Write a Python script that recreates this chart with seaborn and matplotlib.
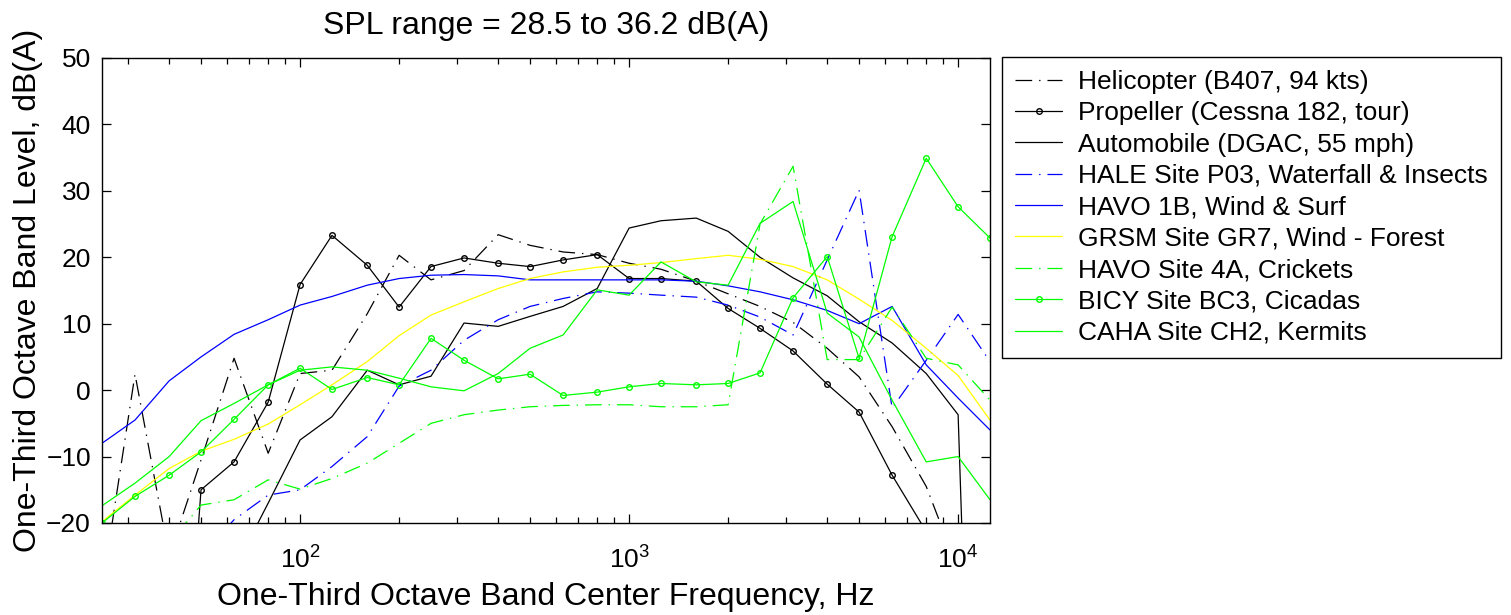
import matplotlib
matplotlib.use("Agg")
import seaborn as sns
import matplotlib.pyplot as plt
import pandas as pd

sns.set_style("ticks")
plt.rcParams["font.family"] = ["Liberation Sans", "DejaVu Sans"]
plt.rcParams["lines.scale_dashes"] = False
plt.rcParams["text.color"] = "black"
plt.rcParams["axes.labelcolor"] = "black"

# -----------------------------------------------------------
# One-third octave band data (dB(A))
# -----------------------------------------------------------
freqs = [25, 31.5, 40, 50, 63, 80, 100, 125, 160, 200, 250, 315, 400, 500, 630,
         800, 1000, 1250, 1600, 2000, 2500, 3150, 4000, 5000, 6300, 8000, 10000, 12500]

helicopter = [-30, 2.4, -25, -10.5, 4.8, -9.5, 2.5, 3.0, 11.5, 20.3, 16.6, 18.0, 23.4, 21.8,
              20.8, 20.4, 19.1, 18.2, 16.4, 14.5, 12.6, 10.2, 6.3, 2.0, -5.5, -14.5, -27, -40]
propeller = [-90, -90, -80, -15.0, -10.8, -1.8, 15.9, 23.3, 18.8, 12.5, 18.6, 19.9, 19.1, 18.6,
             19.6, 20.4, 16.8, 16.8, 16.4, 12.3, 9.3, 5.9, 0.9, -3.3, -12.8, -21.3, -30, -40]
automobile = [-90, -90, -80, -45, -27, -17.0, -7.5, -4.0, 3.0, 0.8, 2.1, 10.1, 9.6, 11.1,
              12.6, 15.3, 24.4, 25.5, 25.9, 23.9, 20.0, 16.9, 14.2, 10.3, 7.1, 2.5, -3.7, -150]
hale = [-90, -60, -40, -25, -19.5, -15.8, -15.0, -11.5, -7.0, 0.6, 3.0, 7.5, 10.6, 12.6,
        13.8, 14.8, 14.6, 14.3, 14.0, 12.8, 11.0, 8.3, 19.6, 30.1, -2.7, 4.5, 11.4, 4.3]
havo1b = [-8.0, -4.5, 1.4, 5.0, 8.4, 10.6, 12.8, 14.1, 15.8, 16.8, 17.3, 17.4, 17.2, 16.6,
          16.6, 16.6, 16.6, 16.6, 16.4, 15.7, 14.8, 13.6, 12.0, 10.0, 12.6, 3.8, -1.2, -6.0]
grsm = [-19.8, -15.8, -11.8, -9.2, -7.4, -5.1, -2.2, 0.8, 4.3, 8.2, 11.3, 13.3, 15.3, 16.8,
        17.8, 18.5, 18.8, 19.2, 19.8, 20.3, 19.7, 18.6, 16.6, 13.7, 10.5, 6.3, 2.2, -4.5]
havo4a = [-40, -32, -23, -17.3, -16.5, -13.5, -14.9, -13.3, -11.0, -8.0, -5.0, -3.7, -3.0, -2.5,
          -2.3, -2.2, -2.2, -2.5, -2.5, -2.2, 25.0, 33.7, 4.6, 4.6, 12.5, 4.8, 3.8, -1.5]
bicy = [-20.0, -16.0, -12.8, -9.3, -4.4, 0.8, 3.3, 0.1, 1.9, 0.8, 7.8, 4.5, 1.7, 2.4,
        -0.8, -0.3, 0.5, 1.0, 0.8, 1.0, 2.6, 13.9, 20.1, 4.8, 23.1, 34.9, 27.6, 22.9]
caha = [-17.4, -14.0, -10.0, -4.6, -2.0, 0.8, 3.0, 3.5, 3.0, 1.8, 0.5, -0.1, 2.5, 6.3,
        8.3, 15.1, 14.3, 19.3, 16.3, 15.8, 25.1, 28.4, 11.6, 8.0, -1.5, -10.8, -10.0, -16.5]

labels = ["Helicopter (B407, 94 kts)", "Propeller (Cessna 182, tour)",
          "Automobile (DGAC, 55 mph)", "HALE Site P03, Waterfall & Insects",
          "HAVO 1B, Wind & Surf", "GRSM Site GR7, Wind - Forest",
          "HAVO Site 4A, Crickets", "BICY Site BC3, Cicadas", "CAHA Site CH2, Kermits"]
series = [helicopter, propeller, automobile, hale, havo1b, grsm, havo4a, bicy, caha]

# -----------------------------------------------------------
# Styles (MATLAB-like)
# -----------------------------------------------------------
dashdot = (0, (12, 5, 1, 5))
styles = [
    dict(color="black", linestyle=dashdot, marker=None),
    dict(color="black", linestyle="-", marker="o"),
    dict(color="black", linestyle="-", marker=None),
    dict(color="blue", linestyle=dashdot, marker=None),
    dict(color="blue", linestyle="-", marker=None),
    dict(color="yellow", linestyle="-", marker=None),
    dict(color="#00ff00", linestyle=dashdot, marker=None),
    dict(color="#00ff00", linestyle="-", marker="o"),
    dict(color="#00ff00", linestyle="-", marker=None),
]

fig = plt.figure(figsize=(15.11, 6.15), dpi=100)
ax = fig.add_axes([0.0675, 0.1496, 0.5877, 0.7561])

for lab, vals, st in zip(labels, series, styles):
    df = pd.DataFrame({"freq": freqs, "level": vals})
    sns.lineplot(data=df, x="freq", y="level", ax=ax, label=lab,
                 color=st["color"], linestyle=st["linestyle"], marker=st["marker"],
                 markersize=6, markerfacecolor="none", markeredgecolor=st["color"],
                 markeredgewidth=1.0, linewidth=0.9, errorbar=None)

ax.set_xscale("log")
ax.set_xlim(25, 12500)
ax.set_ylim(-20, 50)
ax.set_yticks(range(-20, 51, 10))

for side in ax.spines.values():
    side.set_visible(True)
    side.set_color("black")
    side.set_linewidth(1.0)
ax.tick_params(which="both", direction="in", bottom=True, left=True, top=True, right=True,
               colors="black", labelcolor="black", labelsize=19, width=0.9)
ax.tick_params(axis="x", which="both", pad=17)
ax.tick_params(axis="y", which="both", pad=8)
ax.tick_params(which="major", length=6.5)
ax.tick_params(which="minor", length=4.3)

ax.set_xlabel("One-Third Octave Band Center Frequency, Hz", fontsize=23, labelpad=6)
ax.set_ylabel("One-Third Octave Band Level, dB(A)", fontsize=23, labelpad=2)
ax.set_title("SPL range = 28.5 to 36.2 dB(A)", fontsize=23, pad=17)

ax.get_legend().remove()
handles, labs = ax.get_legend_handles_labels()
for h in handles:
    h.set_markersize(4)
leg = fig.legend(handles, labs, loc="upper left", bbox_to_anchor=(0.663, 0.908),
                 fontsize=19, frameon=True, fancybox=False, edgecolor="black",
                 framealpha=1, handlelength=1.8, handletextpad=0.6,
                 labelspacing=0.28, borderpad=0.5, borderaxespad=0)
leg.get_frame().set_linewidth(1.0)

fig.savefig("out.png", dpi=100, facecolor="white")
